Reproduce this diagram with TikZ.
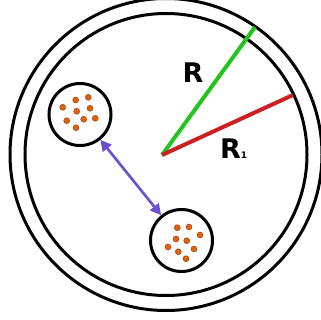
\documentclass[tikz,border=0pt]{standalone}
\usepackage{fontspec}
\setmainfont{DejaVu Sans}
\usetikzlibrary{arrows.meta}
\definecolor{rgreen}{HTML}{22C41E}
\definecolor{rred}{HTML}{CC1F24}
\definecolor{rpurple}{HTML}{6A4FCF}
\definecolor{dotfill}{HTML}{E2600E}
\definecolor{dotline}{HTML}{8A3A08}
\tikzset{
  ring/.style={draw=black,line width=3pt},
  cell/.style={circle,draw=black,line width=3pt,minimum size=62pt,inner sep=0pt},
  radline/.style={line width=4pt},
  dotmark/.style={fill=dotfill,draw=dotline,line width=0.4pt},
  lbl/.style={font=\bfseries\fontsize{27}{27}\selectfont,inner sep=0pt}
}
\begin{document}
\begin{tikzpicture}[x=1pt,y=-1pt]
\useasboundingbox (0,0) rectangle (321,320);
\coordinate (O) at (166,154.5);
\coordinate (C) at (162,155);
\coordinate (G) at (255,27);
\coordinate (Rd) at (293,95);
\draw[ring] (O) circle[radius=156pt];
\draw[ring] (O) circle[radius=141pt];
\draw[radline,rgreen] (C) -- (G);
\draw[radline,rred] (C) -- (Rd);
\node[lbl] (lR) at (193,73) {R};
\node[lbl,anchor=base west] (lR1) at (220,159) {R{\fontsize{9}{9}\selectfont 1}};
\node[cell] (c1) at (80,114.5) {};
\node[cell] (c2) at (181.5,240.5) {};
\draw[rpurple,line width=2.6pt,{Triangle[length=11pt,width=11pt]}-{Triangle[length=11pt,width=11pt]}] (c1) -- (c2);
\foreach \p in {(62.7,107.3),(75.7,100),(88.3,97.3),(76.7,111.3),(90,108.3),(66.7,120.7),(83.7,119.3),(95.3,118.3),(76,127.7),
(177.3,227.7),(189,227),(200,235),(176,239),(186.7,240.7),(168,247),(178.3,251.7),(194,249),(186,258.7)}
  \filldraw[dotmark] \p circle[radius=3pt];
\end{tikzpicture}
\end{document}
